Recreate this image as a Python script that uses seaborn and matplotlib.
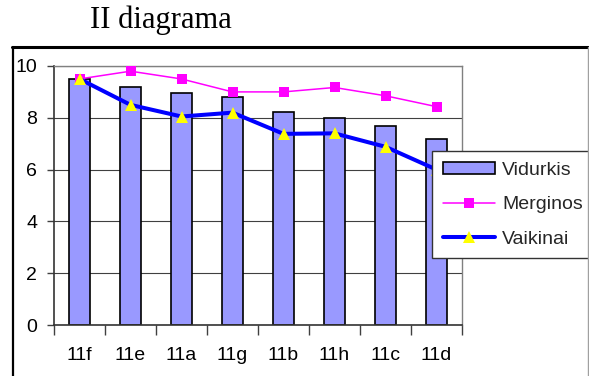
import matplotlib
matplotlib.use("Agg")
import matplotlib.pyplot as plt
import seaborn as sns
import pandas as pd
from matplotlib.lines import Line2D

categories = ["11f", "11e", "11a", "11g", "11b", "11h", "11c", "11d"]
vidurkis = [9.5, 9.2, 8.97, 8.82, 8.23, 8.0, 7.7, 7.18]
merginos = [9.5, 9.8, 9.5, 9.0, 9.0, 9.17, 8.85, 8.43]
vaikinai = [9.5, 8.5, 8.05, 8.2, 7.38, 7.4, 6.88, 6.0]
yticks = [0, 2, 4, 6, 8, 10]
legend_order = ["Vidurkis", "Merginos", "Vaikinai"]

sns.set_theme(style="white")
plt.rcParams["font.family"] = ["Liberation Sans", "DejaVu Sans"]

df = pd.DataFrame({"klase": categories, "Vidurkis": vidurkis,
                   "Merginos": merginos, "Vaikinai": vaikinai})

W, H = 589, 376
fig = plt.figure(figsize=(W / 100, H / 100), dpi=100)
ax = fig.add_axes([54 / W, (H - 325) / H, (462 - 54) / W, (325 - 66) / H])

sns.barplot(data=df, x="klase", y="Vidurkis", color="#9999FF", saturation=1,
            width=0.42, edgecolor="black", linewidth=1.2, ax=ax,
            label="Vidurkis", zorder=2)
sns.pointplot(data=df, x="klase", y="Merginos", color="#FF00FF",
              markers="s", linestyles="-", errorbar=None, ax=ax,
              label="Merginos", linewidth=1.1, markersize=6.5,
              markeredgewidth=0, zorder=3)
sns.pointplot(data=df, x="klase", y="Vaikinai", color="#0000FF",
              markers="^", linestyles="-", errorbar=None, ax=ax,
              label="Vaikinai", linewidth=2.9, markersize=8.5,
              markeredgewidth=0, zorder=4)

for ln in ax.lines:
    if ln.get_marker() == "^":
        ln.set_markerfacecolor("#FFFF00")
        ln.set_markeredgecolor("#FFFF00")

ax.set_ylim(0, 10)
ax.set_xlim(-0.5, len(categories) - 0.5)
ax.set_yticks(yticks)
ax.set_xticks(range(len(categories)))
ax.set_xticklabels(categories)
ax.set_xlabel("")
ax.set_ylabel("")
ax.yaxis.grid(True, color="#404040", linewidth=0.8)
ax.set_axisbelow(True)

# ticks at category boundaries
ax.set_xticks([i - 0.5 for i in range(len(categories) + 1)], minor=True)
ax.tick_params(axis="x", which="major", length=0, pad=16, labelsize=14, colors="black")
ax.tick_params(axis="x", which="minor", length=7, width=1, color="#404040", bottom=True)
ax.tick_params(axis="y", which="major", length=5, width=1, color="#404040",
               pad=7, labelsize=14, left=True, labelcolor="black")

for side in ["left", "bottom"]:
    ax.spines[side].set_color("#333333")
    ax.spines[side].set_linewidth(1.2)
for side in ["top", "right"]:
    ax.spines[side].set_color("#808080")
    ax.spines[side].set_linewidth(1.0)

handles, labels = ax.get_legend_handles_labels()
hmap = dict(zip(labels, handles))
leg = ax.legend([hmap[k] for k in legend_order], legend_order, loc="upper left",
                bbox_to_anchor=(432 / W, 1 - 151 / H),
                bbox_transform=fig.transFigure, borderaxespad=0,
                fontsize=14, frameon=True, fancybox=False, framealpha=1,
                edgecolor="#333333", handlelength=2.7, handleheight=0.6,
                labelspacing=0.9, borderpad=0.55, handletextpad=0.35)
leg.get_frame().set_linewidth(1.0)
leg.set_zorder(10)

# outer chart frame
fig.add_artist(Line2D([13 / W, 13 / W], [0, 1 - 46.5 / H], transform=fig.transFigure,
                      color="black", linewidth=1.6))
fig.add_artist(Line2D([12.4 / W, 588 / W], [1 - 46.5 / H, 1 - 46.5 / H],
                      transform=fig.transFigure, color="black", linewidth=2.2))
fig.add_artist(Line2D([588 / W, 588 / W], [0, 1 - 46.5 / H], transform=fig.transFigure,
                      color="#A0A0A0", linewidth=1.0))

fig.text(90 / W, 1 - 28 / H, "II diagrama", family=["Liberation Serif", "DejaVu Serif"],
         fontsize=22, ha="left", va="baseline", color="black")

fig.savefig("out.png", dpi=100)
